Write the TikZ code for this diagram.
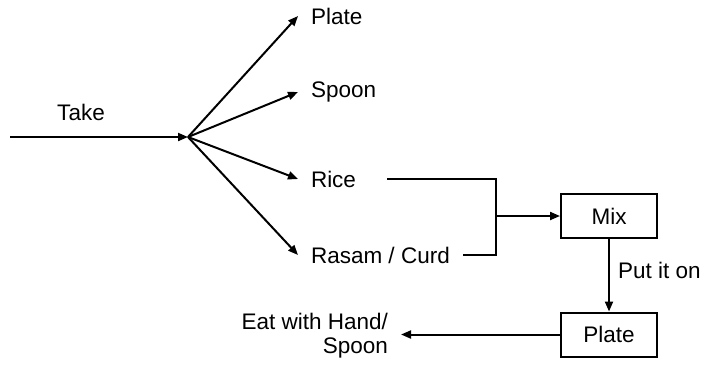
\documentclass[tikz,border=0pt]{standalone}
\usepackage{fontspec}
\setmainfont{Liberation Sans}
\usetikzlibrary{arrows.meta}
\begin{document}
\begin{tikzpicture}[x=0.5pt,y=-0.5pt,
  font=\fontsize{11.25}{12}\selectfont,
  line width=1pt,
  arr/.style={-{Triangle[length=5pt,width=4pt]}},
  lbl/.style={anchor=west,inner xsep=6pt,inner ysep=0pt},
  box/.style={draw,minimum width=48pt,minimum height=22pt,inner sep=0pt}]
\useasboundingbox (0,0) rectangle (704,366);
\coordinate (start) at (10,137);
\coordinate (hub) at (188,137);
\node[inner sep=0pt] (take) at (81,112) {Take};
\node[lbl] (plate) at (298,16) {Plate};
\node[lbl] (spoon) at (298,92) {Spoon};
\node[lbl] (rice) at (298,179) {Rice};
\node[lbl] (rasam) at (298,255) {Rasam / Curd};
\coordinate (j) at (496,216);
\node[box] (mix) at (609,216) {Mix};
\node[box] (plate2) at (609,334.5) {Plate};
\node[anchor=west,inner sep=0pt] (puton) at (617,270) {Put it on};
\node[anchor=east,align=right,inner sep=0pt] (eat) at (389,336) {Eat with Hand/\\Spoon};
\draw[arr] (start) -- (hub);
\draw[arr] (hub) -- (plate.west);
\draw[arr] (hub) -- (spoon.west);
\draw[arr] (hub) -- (rice.west);
\draw[arr] (hub) -- (rasam.west);
\draw ([xshift=9pt]rice.east) -| (j) |- (rasam.east);
\draw[arr] (j) -- (mix.west);
\draw[arr] (mix.south) -- (plate2.north);
\draw[arr] (plate2.west) -- ([xshift=6pt]eat.east |- plate2.west);
\end{tikzpicture}
\end{document}
